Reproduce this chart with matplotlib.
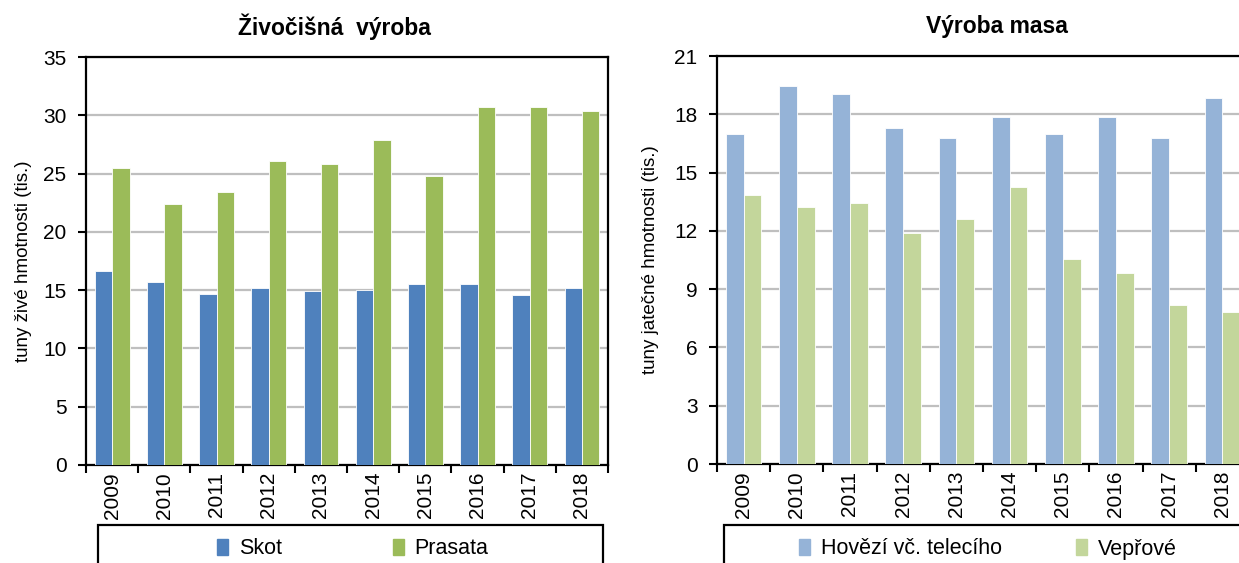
import matplotlib.pyplot as plt
import numpy as np
from matplotlib.patches import Rectangle

# data
roky = ['2009', '2010', '2011', '2012', '2013', '2014', '2015', '2016', '2017', '2018']
skot = [16.6, 15.7, 14.7, 15.2, 14.9, 15.05, 15.55, 15.55, 14.55, 15.2]
prasata = [25.45, 22.4, 23.4, 26.1, 25.8, 27.85, 24.8, 30.75, 30.75, 30.4]
hovezi = [17.0, 19.45, 19.05, 17.3, 16.8, 17.85, 17.0, 17.85, 16.8, 18.85]
veprove = [13.85, 13.25, 13.45, 11.9, 12.6, 14.25, 10.55, 9.85, 8.2, 7.8]

plt.rcParams['font.family'] = ['Liberation Sans', 'DejaVu Sans']
W, H = 1239, 563
fig = plt.figure(figsize=(W / 100, H / 100), dpi=100)

def px(x0, y0, x1, y1):
    return [x0 / W, 1 - y1 / H, (x1 - x0) / W, (y1 - y0) / H]

def bar_chart(ax, a, b, ca, cb, ymax, step, ylabel, labx):
    x = np.arange(len(roky))
    w = 1 / 3
    ax.bar(x - w / 2, a, w, color=ca, edgecolor='white', linewidth=0.6, zorder=3)
    ax.bar(x + w / 2, b, w, color=cb, edgecolor='white', linewidth=0.6, zorder=3)
    ax.set_xlim(-0.5, len(roky) - 0.5)
    ax.set_ylim(0, ymax)
    ax.set_yticks(np.arange(0, ymax + 0.1, step))
    ax.yaxis.grid(True, color='#BFBFBF', linewidth=1.6, zorder=0)
    ax.set_axisbelow(True)
    # ticks between categories, year labels in the middle
    ax.set_xticks(np.arange(-0.5, len(roky), 1))
    ax.set_xticklabels([])
    ax.set_xticks(x, roky, minor=True, rotation=90)
    ax.tick_params(axis='x', which='major', length=6, width=1.5, direction='out')
    ax.tick_params(axis='x', which='minor', length=0, labelsize=15, pad=5)
    ax.tick_params(axis='y', length=6, width=1.5, labelsize=15, pad=8)
    for s in ax.spines.values():
        s.set_linewidth(1.6)
        s.set_color('black')
    ax.set_ylabel(ylabel, fontsize=13.5)
    ax.yaxis.set_label_coords(labx, 0.5)

ax1 = fig.add_axes(px(86, 57, 608, 465))
bar_chart(ax1, skot, prasata, '#4F81BD', '#9BBB59', 35, 5,
          'tuny živé hmotnosti (tis.)', -0.103)
ax2 = fig.add_axes(px(717, 56, 1249, 464))
bar_chart(ax2, hovezi, veprove, '#95B3D7', '#C3D69B', 21, 3,
          'tuny jatečné hmotnosti (tis.)', -0.109)

fig.text(334 / W, 1 - 27 / H, 'Živočišná  výroba', ha='center', va='center',
         fontsize=16.5, fontweight='bold')
fig.text(997 / W, 1 - 26 / H, 'Výroba masa', ha='center', va='center',
         fontsize=16.5, fontweight='bold')

# legend frames (cut off by the bottom edge as in the reference)
fig.patches.append(Rectangle((98 / W, -0.05), (603 - 98) / W, 0.05 + 1 - 525 / H,
                             transform=fig.transFigure, fill=False,
                             edgecolor='black', linewidth=1.6))
fig.patches.append(Rectangle((724 / W, -0.05), 0.5, 0.05 + 1 - 525 / H,
                             transform=fig.transFigure, fill=False,
                             edgecolor='black', linewidth=1.6))

h1 = [Rectangle((0, 0), 1, 1, color=c) for c in ['#4F81BD', '#9BBB59']]
fig.legend(h1, ['Skot', 'Prasata'], loc='center left',
           bbox_to_anchor=(198 / W, 1 - 549 / H), ncol=2, frameon=False,
           fontsize=15.5, handlelength=0.5, handleheight=0.7, handletextpad=0.5,
           columnspacing=5.15)
h2 = [Rectangle((0, 0), 1, 1, color=c) for c in ['#95B3D7', '#C3D69B']]
fig.legend(h2, ['Hovězí vč. telecího', 'Vepřové'], loc='center left',
           bbox_to_anchor=(780 / W, 1 - 549 / H), ncol=2, frameon=False,
           fontsize=15.5, handlelength=0.5, handleheight=0.7, handletextpad=0.5,
           columnspacing=3.45)

fig.savefig('out.png', dpi=100)
